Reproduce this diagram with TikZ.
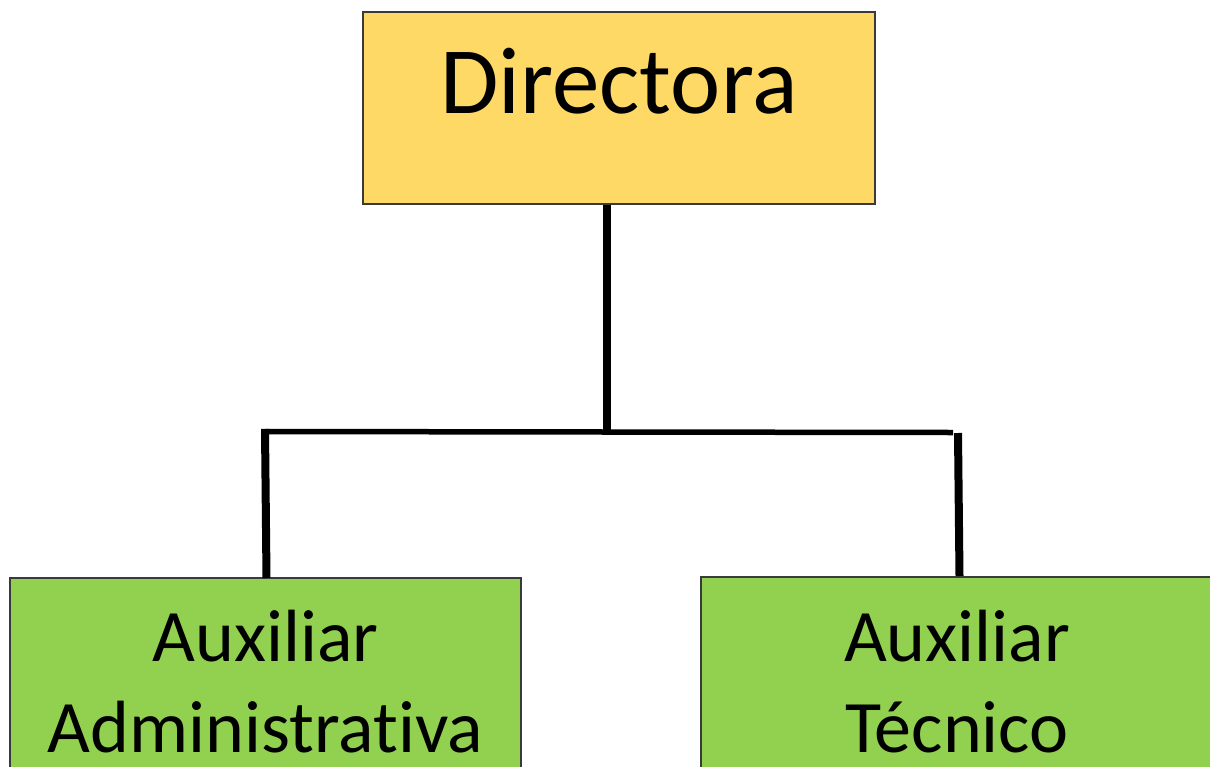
\documentclass[tikz,border=0pt]{standalone}
\usepackage{fontspec}
\setmainfont[Ligatures=NoCommon]{Carlito}
\definecolor{boxyellow}{HTML}{FFD966}
\definecolor{boxgreen}{HTML}{92D050}
\definecolor{boxedge}{HTML}{3A3A3A}
\tikzset{
  orgbox/.style={draw=boxedge, line width=1.3pt, rectangle, inner sep=0pt},
  vconn/.style={line width=8pt, black},
  hconn/.style={line width=5.5pt, black},
  bigtext/.style={anchor=base, inner sep=0pt, font=\fontsize{95}{110}\selectfont},
  smalltext/.style={anchor=base, inner sep=0pt, font=\fontsize{74}{90}\selectfont}
}
\begin{document}
\begin{tikzpicture}[x=1pt, y=-1pt]
\useasboundingbox (0,0) rectangle (1210,766);
\clip (0,0) rectangle (1210,766);
\fill[white] (0,0) rectangle (1210,766);
% boxes
\node[orgbox, fill=boxyellow, minimum width=512pt, minimum height=192pt] (dir) at (619,108) {};
\node[orgbox, fill=boxgreen, minimum width=511pt, minimum height=222pt] (adm) at (265.5,689) {};
\node[orgbox, fill=boxgreen, minimum width=512pt, minimum height=222pt] (tec) at (957,688) {};
% texts
\node[bigtext] (tdir) at (619,113) {Directora};
\node[smalltext] (tadm1) at (265.5,661) {Auxiliar};
\node[smalltext] (tadm2) at (265.5,752) {Administrativa};
\node[smalltext] (ttec1) at (957,661) {Auxiliar};
\node[smalltext] (ttec2) at (957,752) {Técnico};
% connector points
\coordinate (top) at (607,204.5);
\coordinate (j) at (607,432);
\coordinate (jl) at (261,431.5);
\coordinate (jr) at (953,432.5);
\coordinate (lt) at (265,429);
\coordinate (lb) at (266.5,578);
\coordinate (rt) at (958,433);
\coordinate (rb) at (959.5,576);
% connectors
\draw[vconn] (top) -- (j);
\draw[hconn] (j) -- (jl);
\draw[hconn] (j) -- (jr);
\draw[vconn] (lt) -- (lb);
\draw[vconn] (rt) -- (rb);
\end{tikzpicture}
\end{document}
